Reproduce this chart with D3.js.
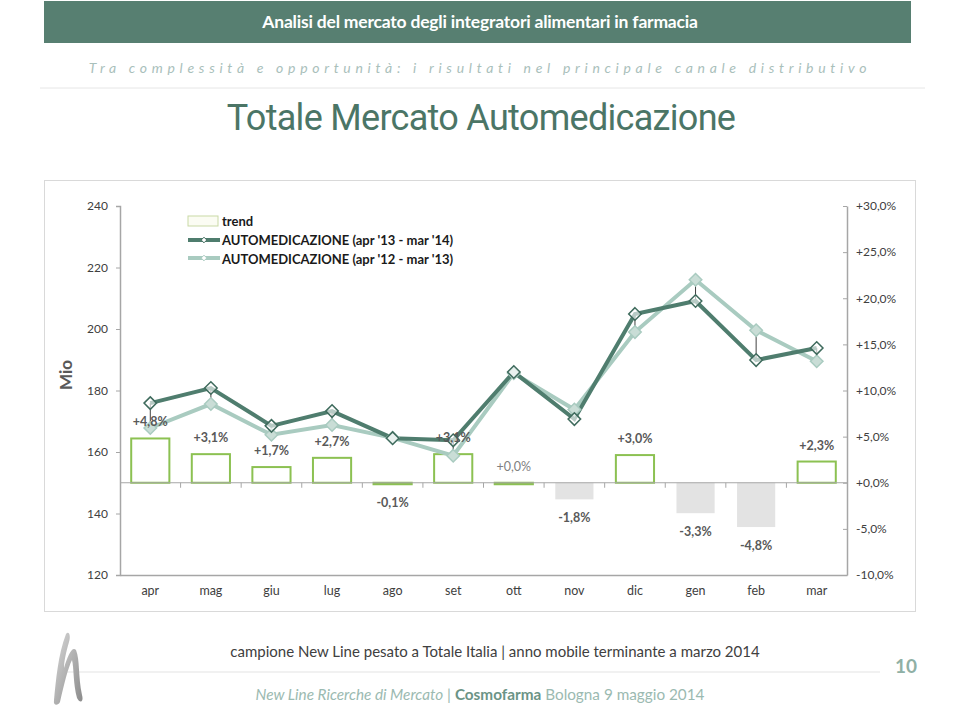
<!DOCTYPE html>
<html><head><meta charset="utf-8">
<script src="https://cdn.jsdelivr.net/npm/d3@7"></script>
<style>body{margin:0;background:#fff;} svg{display:block;}</style>
</head><body>
<script>
const months = ["apr","mag","giu","lug","ago","set","ott","nov","dic","gen","feb","mar"];
const current = [175.9,180.8,168.5,173.3,164.5,163.8,186.0,170.7,204.9,209.1,189.9,193.8];
const previous = [167.8,175.6,165.6,168.8,164.6,158.8,185.6,173.8,199.0,216.0,199.6,189.5];
const trend = [4.8,3.1,1.7,2.7,-0.1,3.1,0.0,-1.8,3.0,-3.3,-4.8,2.3];
const leftTicks = [120,140,160,180,200,220,240];
const rightTicks = [-10,-5,0,5,10,15,20,25,30];
const seriesNames = ["trend","AUTOMEDICAZIONE (apr '13 - mar '14)","AUTOMEDICAZIONE (apr '12 - mar '13)"];

const W=960,H=710;
const svg=d3.select("body").append("svg").attr("width",W).attr("height",H);
const F="Lato, 'Open Sans', sans-serif";

// header
svg.append("rect").attr("x",44).attr("y",1).attr("width",867).attr("height",42).attr("fill","#577f71");
svg.append("text").attr("x",480).attr("y",28).attr("text-anchor","middle").attr("fill","#fff")
  .attr("font-family",F).attr("font-weight","bold").attr("font-size",17.5).attr("letter-spacing",-0.2)
  .text("Analisi del mercato degli integratori alimentari in farmacia");
svg.append("text").attr("x",480).attr("y",73).attr("text-anchor","middle").attr("fill","#a9c0bb")
  .attr("font-family",F).attr("font-style","italic").attr("font-size",14).attr("letter-spacing",4.7)
  .text("Tra complessità e opportunità: i risultati nel principale canale distributivo");
svg.append("line").attr("x1",40).attr("x2",925).attr("y1",88).attr("y2",88).attr("stroke","#e6e6e6");
svg.append("text").attr("x",481).attr("y",130).attr("text-anchor","middle").attr("fill","#4b7566")
  .attr("font-family","Roboto, sans-serif").attr("font-size",36).attr("letter-spacing",-0.7)
  .text("Totale Mercato Automedicazione");

// chart frame
svg.append("rect").attr("x",44.5).attr("y",180.5).attr("width",871).attr("height",431)
  .attr("fill","#fff").attr("stroke","#d9d9d9");

const x=d3.scaleBand().domain(months).range([120,847]).paddingInner(0.37).paddingOuter(0.185);
const xb=d3.scaleBand().domain(months).range([120,847]);
const yL=d3.scaleLinear().domain([120,240]).range([575,206]);
const yR=d3.scaleLinear().domain([-10,30]).range([575,206]);
const fmtPct=v=>(v<0?"-":"+")+Math.abs(v).toFixed(1).replace(".",",")+"%";

// left axis
const gL=svg.append("g").attr("transform","translate(120,0)")
  .call(d3.axisLeft(yL).tickValues(leftTicks).tickSize(4).tickPadding(8));
gL.select(".domain").attr("stroke","#a6a6a6").attr("stroke-width",1.5);
gL.selectAll(".tick line").attr("stroke","#a6a6a6");
gL.selectAll("text").attr("font-family",F).attr("font-size",12).attr("fill","#404040");
// right axis
const gR=svg.append("g").attr("transform","translate(847,0)")
  .call(d3.axisRight(yR).tickValues(rightTicks).tickSize(0).tickPadding(9).tickFormat(fmtPct));
gR.select(".domain").attr("stroke","#a6a6a6").attr("stroke-width",1.5);
gR.selectAll(".tick").append("line").attr("x1",-4).attr("x2",0).attr("stroke","#a6a6a6");
gR.selectAll("text").attr("font-family",F).attr("font-size",12).attr("fill","#404040");
// bottom axis
const gB=svg.append("g").attr("transform","translate(0,575)")
  .call(d3.axisBottom(xb).tickSize(0).tickPadding(11));
gB.select(".domain").attr("stroke","#a6a6a6").attr("stroke-width",1.5);
gB.selectAll("text").attr("font-family",F).attr("font-size",12.5).attr("fill","#404040");

// bars
const y0=yR(0);
svg.append("g").selectAll("rect").data(trend).join("rect")
  .attr("x",(d,i)=>x(months[i]))
  .attr("width",x.bandwidth())
  .attr("y",d=>d>=0?yR(d):y0)
  .attr("height",d=>Math.max(Math.abs(yR(d)-y0),d>=-0.5?1.5:0))
  .attr("fill",(d,i)=>d< -0.5?"#e3e3e3":"#fff")
  .attr("stroke",(d,i)=>d< -0.5?"none":"#8cc152").attr("stroke-width",2);
// zero line with ticks
svg.append("line").attr("x1",120).attr("x2",847).attr("y1",y0).attr("y2",y0).attr("stroke","#a6a6a6");
svg.append("g").selectAll("line").data(months.slice(1)).join("line")
  .attr("x1",d=>xb(d)).attr("x2",d=>xb(d)).attr("y1",y0).attr("y2",y0+5).attr("stroke","#a6a6a6");

// hi-lo lines
svg.append("g").selectAll("line").data(months).join("line")
  .attr("x1",d=>xb(d)+xb.bandwidth()/2).attr("x2",d=>xb(d)+xb.bandwidth()/2)
  .attr("y1",(d,i)=>yL(current[i])).attr("y2",(d,i)=>yL(previous[i]))
  .attr("stroke","#404040").attr("stroke-width",1);

// lines
const cx=d=>xb(d)+xb.bandwidth()/2;
const line=d3.line().x((d,i)=>cx(months[i])).y(d=>yL(d));
const cPrev="#a9cbc0", cCur="#4f7d6e";
svg.append("path").datum(previous).attr("d",line).attr("fill","none").attr("stroke",cPrev).attr("stroke-width",4);
svg.append("path").datum(current).attr("d",line).attr("fill","none").attr("stroke",cCur).attr("stroke-width",4);
const diamond=d3.symbol().type(d3.symbolDiamond2).size(100);
svg.append("g").selectAll("path").data(previous).join("path")
  .attr("d",diamond).attr("transform",(d,i)=>`translate(${cx(months[i])},${yL(d)})`)
  .attr("fill","#c9ddd6").attr("stroke","#a9cbc0").attr("stroke-width",1.5);
svg.append("g").selectAll("path").data(current).join("path")
  .attr("d",diamond).attr("transform",(d,i)=>`translate(${cx(months[i])},${yL(d)})`)
  .attr("fill","#fff").attr("fill-opacity",0.6).attr("stroke","#3f6b5d").attr("stroke-width",1.5);

// bar labels
svg.append("g").selectAll("text").data(trend).join("text")
  .attr("x",(d,i)=>cx(months[i]))
  .attr("y",d=>d>=0?yR(d)-12:y0+Math.max(yR(d)-y0,0)+23)
  .attr("text-anchor","middle").attr("font-family",F).attr("font-size",12.5)
  .attr("font-weight",d=>d===0?"normal":"bold").attr("fill",d=>d===0?"#7f7f7f":"#595959")
  .text(fmtPct);

// Mio
svg.append("text").attr("transform","translate(72,375) rotate(-90)").attr("text-anchor","middle")
  .attr("font-family",F).attr("font-weight","bold").attr("font-size",17).attr("fill","#595959").text("Mio");

// legend
const lg=svg.append("g").attr("font-family",F).attr("font-size",13).attr("font-weight","bold").attr("fill","#1a1a1a");
lg.append("rect").attr("x",188).attr("y",216).attr("width",30).attr("height",10).attr("fill","#fbfcf3").attr("stroke","#c9d9a6");
[[cCur,"#3f6b5d",240],[cPrev,"#a9cbc0",258]].forEach(([c,s,yy])=>{
  lg.append("line").attr("x1",188).attr("x2",220).attr("y1",yy).attr("y2",yy).attr("stroke",c).attr("stroke-width",4);
  lg.append("path").attr("d",d3.symbol().type(d3.symbolDiamond2).size(20)).attr("transform",`translate(204,${yy})`).attr("fill","#fff").attr("stroke",s);
});
seriesNames.forEach((n,i)=>lg.append("text").attr("x",222).attr("y",226+i*19).text(n));

// footer
svg.append("text").attr("x",495).attr("y",657).attr("text-anchor","middle").attr("font-family",F)
  .attr("font-size",15).attr("fill","#404040")
  .text("campione New Line pesato a Totale Italia | anno mobile terminante a marzo 2014");
svg.append("line").attr("x1",62).attr("x2",880).attr("y1",672).attr("y2",672).attr("stroke","#e3e3e3");
svg.append("text").attr("x",906).attr("y",673).attr("text-anchor","middle").attr("font-family",F)
  .attr("font-size",19).attr("font-weight","bold").attr("fill","#8fb0a5").text("10");
const ft=svg.append("text").attr("x",480).attr("y",700).attr("text-anchor","middle").attr("font-family",F).attr("font-size",15.3);
ft.append("tspan").attr("font-style","italic").attr("fill","#9bbab1").text("New Line Ricerche di Mercato");
ft.append("tspan").attr("fill","#9bbab1").text(" | ");
ft.append("tspan").attr("font-weight","bold").attr("fill","#6b9486").text("Cosmofarma");
ft.append("tspan").attr("fill","#9bbab1").text(" Bologna 9 maggio 2014");

// logo
const grad=svg.append("defs").append("linearGradient").attr("id","lg").attr("x1",0).attr("x2",1).attr("y1",0).attr("y2",1);
grad.append("stop").attr("offset",0).attr("stop-color","#d8d8d8");
grad.append("stop").attr("offset",1).attr("stop-color","#8a8a8a");
svg.append("path").attr("fill","url(#lg)")
  .attr("d","M54,700 C56,680 58,655 66,634 C69,630 71,636 69,642 C66,652 64,662 64,668 C68,655 72,646 76,650 C80,660 78,676 82,695 C84,702 80,704 77,698 C73,684 74,668 72,660 C68,668 64,684 60,702 C58,706 53,706 54,700 Z");
</script>
</body></html>
